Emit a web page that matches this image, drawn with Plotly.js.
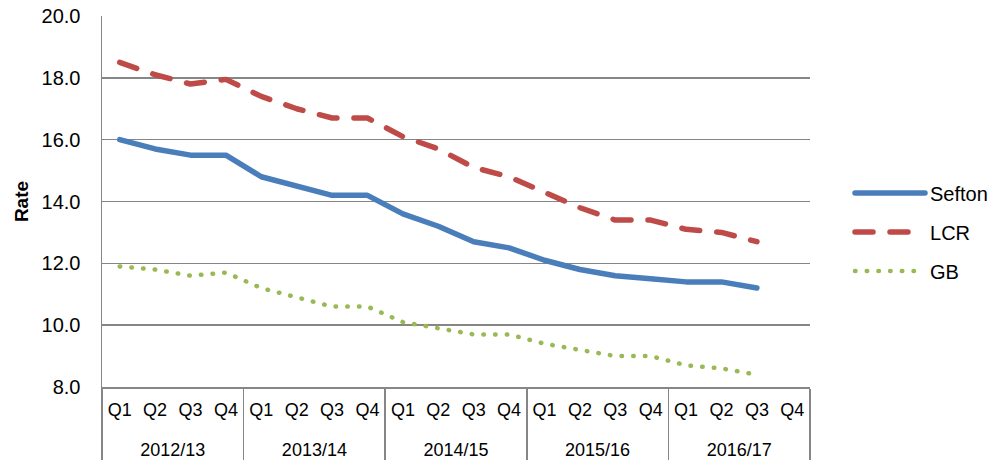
<!DOCTYPE html>
<html>
<head>
<meta charset="utf-8">
<script src="https://cdn.plot.ly/plotly-3.0.1.min.js"></script>
<style>
html, body { margin: 0; padding: 0; background: #fff; }
#chart { width: 992px; height: 463px; }
.js-line, .legendlines path { stroke-linecap: round !important; stroke-linejoin: round !important; }
</style>
</head>
<body>
<div id="chart"></div>
<script>
const years = ["2012/13", "2013/14", "2014/15", "2015/16", "2016/17"];
const quarters = ["Q1", "Q2", "Q3", "Q4"];
const sefton = [16.0, 15.7, 15.5, 15.5, 14.8, 14.5, 14.2, 14.2, 13.6, 13.2, 12.7, 12.5, 12.1, 11.8, 11.6, 11.5, 11.4, 11.4, 11.2, null];
const lcr = [18.5, 18.1, 17.8, 17.95, 17.4, 17.0, 16.7, 16.7, 16.1, 15.7, 15.1, 14.8, 14.3, 13.8, 13.4, 13.4, 13.1, 13.0, 12.7, null];
const gb = [11.9, 11.8, 11.6, 11.7, 11.2, 10.9, 10.6, 10.6, 10.1, 9.9, 9.7, 9.7, 9.4, 9.2, 9.0, 9.0, 8.7, 8.6, 8.4, null];

const xYear = [], xQ = [];
// leading blank line pushes the group labels down to the reference's second row
years.forEach(y => quarters.forEach(q => { xYear.push("&nbsp;<br>" + y); xQ.push(q); }));
const x = [xYear, xQ];

const font = "Liberation Sans, Arial, sans-serif";
const traces = [
  { name: "Sefton", y: sefton, line: { color: "#4a7ebb", width: 5.5 } },
  { name: "LCR", y: lcr, line: { color: "#be4b48", width: 5.5, dash: "18px,17px" } },
  { name: "GB", y: gb, line: { color: "#98b954", width: 4.5, dash: "0.5px,11.2px" } }
].map((t, i) => Object.assign({ type: "scatter", mode: "lines", x: x, legendgroup: "g" + i, hoverinfo: "skip" }, t));

const layout = {
  width: 992, height: 463,
  margin: { l: 102, r: 182, t: 16, b: 76, autoexpand: false },
  paper_bgcolor: "#fff", plot_bgcolor: "#fff",
  font: { family: font, color: "#000", size: 18 },
  showlegend: true,
  legend: { x: 1.0565, xanchor: "left", xref: "paper", y: 0.418, yanchor: "middle", font: { family: font, size: 20, color: "#000" }, itemwidth: 70, tracegroupgap: 10, bgcolor: "rgba(0,0,0,0)" },
  xaxis: {
    type: "multicategory",
    range: [-0.5, 19.5], autorange: false,
    showgrid: false,
    showline: true, linecolor: "#868686", linewidth: 1.5,
    showdividers: true, dividercolor: "#868686", dividerwidth: 1.5,
    tickfont: { family: font, size: 18, color: "#000" },
    ticklabelstandoff: 6,
    ticks: "", zeroline: false
  },
  yaxis: {
    range: [8, 20], dtick: 2, tick0: 8, tickformat: ".1f",
    showgrid: true, gridcolor: "#868686", gridwidth: 1.5,
    showline: true, linecolor: "#868686", linewidth: 1.5,
    zeroline: false, ticks: "",
    ticklabelstandoff: 16,
    tickfont: { family: font, size: 20, color: "#000" },
    title: { text: "<b>Rate</b>", font: { family: font, size: 19, color: "#000" }, standoff: 8 }
  }
};

Plotly.newPlot("chart", traces, layout, { displayModeBar: false, staticPlot: true });
</script>
</body>
</html>
